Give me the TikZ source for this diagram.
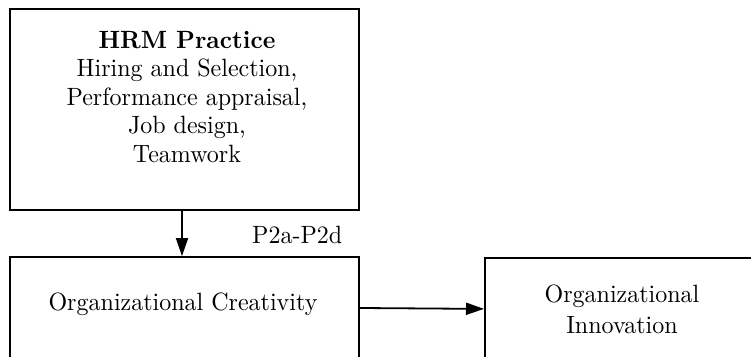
\documentclass[tikz,border=0pt]{standalone}
\usepackage{fontspec}
\setmainfont{lmroman10-regular.otf}[BoldFont=lmroman10-bold.otf, FakeStretch=0.96]
\usetikzlibrary{arrows.meta}
\tikzset{
  boxshape/.style={draw, line width=1.8pt, rectangle, inner sep=0pt},
  labeltext/.style={inner sep=0pt, font=\fontsize{25}{28.5}\selectfont},
  conn/.style={line width=1.8pt, -{Triangle[length=18pt,width=12pt]}}
}
\begin{document}
\begin{tikzpicture}[x=1pt,y=1pt]
\useasboundingbox (0,0) rectangle (751,356);
\clip (0,0) rectangle (751,356);
\fill[white] (0,0) rectangle (751,356);
% boxes
\node[boxshape, minimum width=349pt, minimum height=201pt] (hrm) at (184.5,246.5) {};
\node[boxshape, minimum width=349pt, minimum height=129pt] (crea) at (184.5,34.5) {};
\node[boxshape, minimum width=316pt, minimum height=129pt, anchor=north west] (innov) at (484,99) {};
% texts
\node[labeltext, align=center, anchor=north] (hrmtext) at (187,325.1)
  {\textbf{HRM Practice}\\Hiring and Selection,\\Performance appraisal,\\Job design,\\Teamwork};
\node[labeltext, anchor=base] (creatext) at (183,46) {Organizational Creativity};
\node[labeltext, align=center, anchor=base, font=\fontsize{25}{31}\selectfont] (innovtext) at (622,23) {Organizational\\Innovation};
\node[labeltext, anchor=base west] (plabel) at (252,113) {P2a-P2d};
% connectors
\draw[conn] ([xshift=-2.5pt]hrm.south) -- ([xshift=-2.5pt]crea.north);
\draw[conn] ([yshift=13.5pt]crea.east) -- ([yshift=13.5pt]innov.west);
\end{tikzpicture}
\end{document}
